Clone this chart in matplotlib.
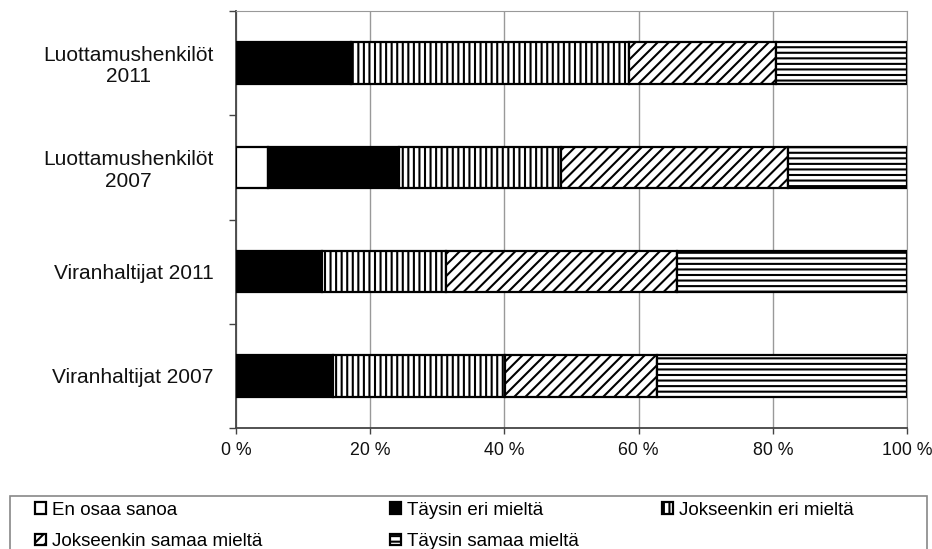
import numpy as np
import matplotlib.pyplot as plt
from matplotlib.patches import Rectangle, Patch

plt.rcParams['font.family'] = ['Liberation Sans', 'DejaVu Sans']
plt.rcParams['hatch.linewidth'] = 1.5
plt.rcParams['hatch.color'] = 'black'

groups = ['Luottamushenkilöt\n2011', 'Luottamushenkilöt\n2007',
          'Viranhaltijat 2011', 'Viranhaltijat 2007']
series = ['En osaa sanoa', 'Täysin eri mieltä', 'Jokseenkin eri mieltä',
          'Jokseenkin samaa mieltä', 'Täysin samaa mieltä']
en_osaa = [0.0, 4.7, 0.0, 0.0]
taysin_eri = [17.2, 19.6, 12.8, 14.4]
jokseenkin_eri = [41.4, 24.1, 18.5, 25.7]
jokseenkin_samaa = [21.9, 33.8, 34.4, 22.7]
taysin_samaa = [19.5, 17.8, 34.3, 37.2]
xticks = ['0 %', '20 %', '40 %', '60 %', '80 %', '100 %']

values = [en_osaa, taysin_eri, jokseenkin_eri, jokseenkin_samaa, taysin_samaa]
fills = ['white', 'black', 'white', 'white', 'white']
hatches = [None, None, '|||', '///', '---']

fig = plt.figure(figsize=(9.32, 5.49), dpi=100)
ax = fig.add_axes([236 / 932, 1 - 428 / 549, 671 / 932, 417 / 549])

y = np.arange(len(groups))
left = np.zeros(len(groups))
handles = []
for vals, fc, h, name in zip(values, fills, hatches, series):
    vals = np.array(vals)
    ax.barh(y, vals, left=left, height=0.4, color=fc, edgecolor='black',
            linewidth=1.6, hatch=h, zorder=3)
    handles.append(Patch(facecolor=fc, edgecolor='black', linewidth=1.6,
                         hatch=h, label=name))
    left += vals

ax.set_xlim(0, 100)
ax.set_ylim(3.5, -0.5)
ax.set_xticks(np.arange(0, 101, 20))
ax.set_xticklabels(xticks)
ax.set_yticks(y)
ax.set_yticklabels(groups, multialignment='center', linespacing=1.15)
ax.set_yticks(np.arange(-0.5, 4, 1), minor=True)
ax.tick_params(axis='y', which='major', length=0, pad=16, labelsize=15,
               labelcolor='#111111')
ax.tick_params(axis='y', which='minor', length=5, width=1, color='#444444')
ax.tick_params(axis='x', length=4, width=1, color='#444444', pad=6,
               labelsize=12.8, labelcolor='#111111')
ax.grid(axis='x', color='#999999', linewidth=1, zorder=0)
ax.spines['top'].set_color('#999999')
ax.spines['right'].set_color('#999999')
ax.spines['left'].set_color('#444444')
ax.spines['bottom'].set_color('#444444')
ax.spines['left'].set_linewidth(1.3)
ax.spines['bottom'].set_linewidth(1.3)

# legend box along the bottom edge, entries in three columns
fig.patches.append(Rectangle((10 / 932, -0.05), 917 / 932, 0.05 + 1 - 496 / 549,
                             transform=fig.transFigure, facecolor='white',
                             edgecolor='#888888', linewidth=1.2))
columns = [(35 / 932, [0, 3]), (390 / 932, [1, 4]), (662 / 932, [2])]
for x0, idx in columns:
    fig.legend(handles=[handles[i] for i in idx], loc='upper left',
               bbox_to_anchor=(x0, 1 - 502 / 549), frameon=False,
               borderpad=0, borderaxespad=0,
               handlelength=0.6, handleheight=0.6, handletextpad=0.3,
               labelspacing=0.75, prop={'size': 13.5})

fig.savefig('out.png', dpi=100)
